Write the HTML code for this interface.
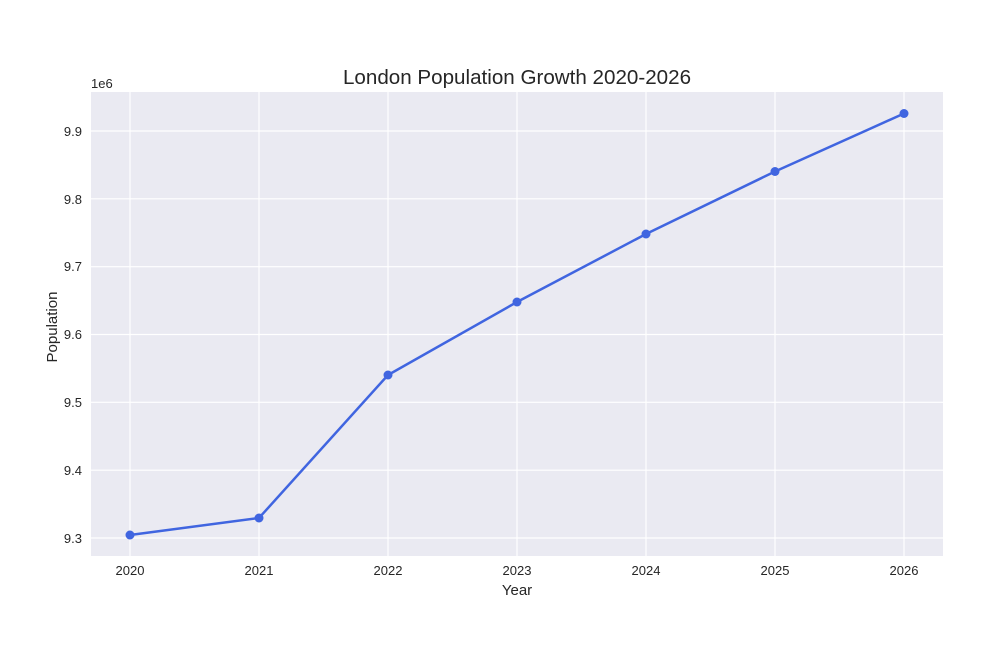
<!DOCTYPE html>
<html><head><meta charset="utf-8"><style>
body{margin:0;background:#fff;}
svg{display:block;font-family:"Liberation Sans","DejaVu Sans",sans-serif;}
</style></head><body>
<svg width="1000" height="667" viewBox="0 0 1000 667" xmlns="http://www.w3.org/2000/svg">
<rect width="1000" height="667" fill="#fff"/>
<rect x="91" y="92" width="852" height="464" fill="#eaeaf2"/>
<g stroke="#fff" stroke-width="1.2">
<line x1="130" y1="92" x2="130" y2="556"/>
<line x1="259" y1="92" x2="259" y2="556"/>
<line x1="388" y1="92" x2="388" y2="556"/>
<line x1="517" y1="92" x2="517" y2="556"/>
<line x1="646" y1="92" x2="646" y2="556"/>
<line x1="775" y1="92" x2="775" y2="556"/>
<line x1="904" y1="92" x2="904" y2="556"/>
<line x1="91" y1="538" x2="943" y2="538"/>
<line x1="91" y1="470.2" x2="943" y2="470.2"/>
<line x1="91" y1="402.3" x2="943" y2="402.3"/>
<line x1="91" y1="334.5" x2="943" y2="334.5"/>
<line x1="91" y1="266.7" x2="943" y2="266.7"/>
<line x1="91" y1="198.8" x2="943" y2="198.8"/>
<line x1="91" y1="131" x2="943" y2="131"/>
</g>
<polyline points="130,535 259,518 388,375 517,302 646,234 775,171.5 904,113.5" fill="none" stroke="#4065e0" stroke-width="2.5"/>
<g fill="#4065e0">
<circle cx="130" cy="535" r="4.5"/><circle cx="259" cy="518" r="4.5"/><circle cx="388" cy="375" r="4.5"/><circle cx="517" cy="302" r="4.5"/><circle cx="646" cy="234" r="4.5"/><circle cx="775" cy="171.5" r="4.5"/><circle cx="904" cy="113.5" r="4.5"/>
</g>
<g font-size="13" fill="#262626" text-anchor="middle">
<text x="130" y="575">2020</text><text x="259" y="575">2021</text><text x="388" y="575">2022</text><text x="517" y="575">2023</text><text x="646" y="575">2024</text><text x="775" y="575">2025</text><text x="904" y="575">2026</text>
</g>
<g font-size="13" fill="#262626" text-anchor="end">
<text x="82" y="543">9.3</text><text x="82" y="475">9.4</text><text x="82" y="407">9.5</text><text x="82" y="339">9.6</text><text x="82" y="271">9.7</text><text x="82" y="204">9.8</text><text x="82" y="136">9.9</text>
</g>
<text x="91" y="88" font-size="13" fill="#262626">1e6</text>
<text x="517" y="595" font-size="15" fill="#262626" text-anchor="middle">Year</text>
<text transform="translate(57,327) rotate(-90)" font-size="15" fill="#262626" text-anchor="middle">Population</text>
<text x="517" y="84" font-size="20.6" fill="#262626" text-anchor="middle">London Population Growth 2020-2026</text>
</svg>
</body></html>
